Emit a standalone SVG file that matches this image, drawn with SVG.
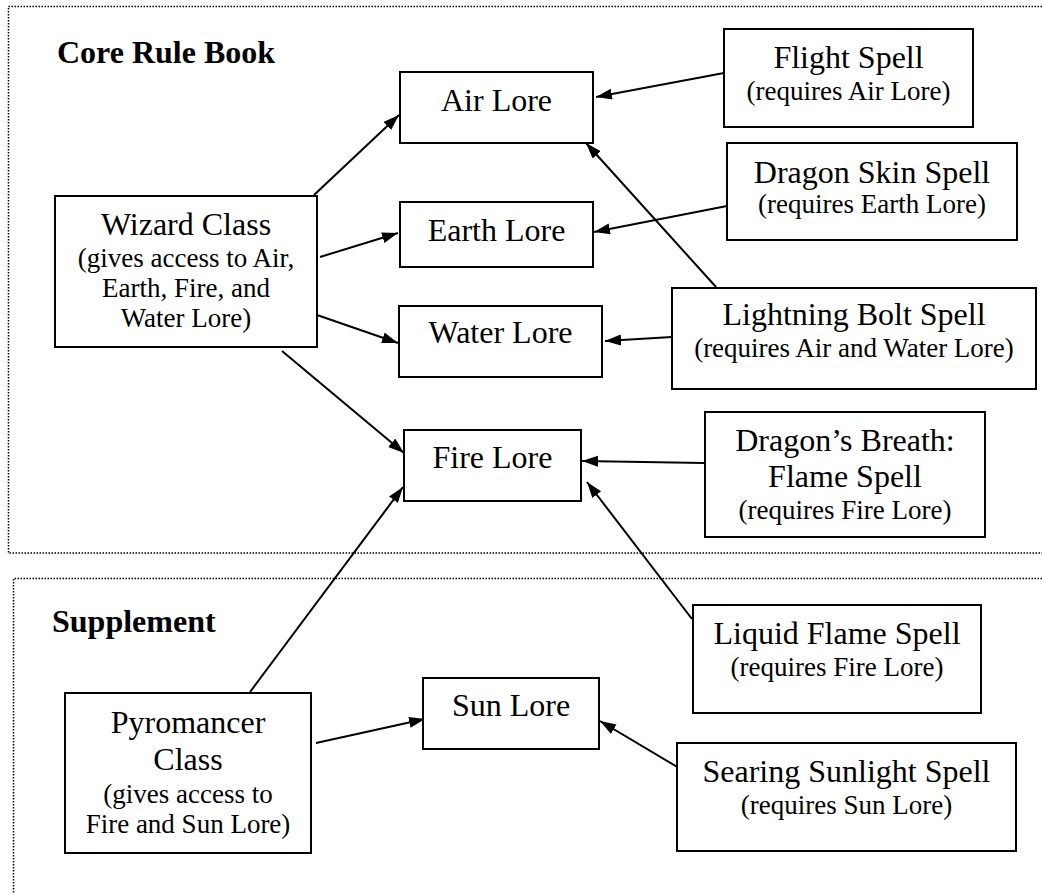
<svg xmlns="http://www.w3.org/2000/svg" width="1042" height="893" viewBox="0 0 1042 893">
<style>
text{font-family:'Liberation Serif','Times New Roman',Times,'DejaVu Serif',serif;fill:#000}
.box{fill:#fff;stroke:#000;stroke-width:2}
.t{font-size:32px;text-anchor:middle}
.s{font-size:27px;text-anchor:middle}
.h{font-size:32px;font-weight:bold}
.region{fill:none;stroke:#000;stroke-width:1.5;stroke-dasharray:1.5 1.5}
.edge{fill:none;stroke:#000;stroke-width:2;marker-end:url(#arr)}
</style>
<defs>
<marker id="arr" markerUnits="userSpaceOnUse" markerWidth="17" markerHeight="12" refX="16" refY="5.5" orient="auto">
<path d="M0,0 L16,5.5 L0,11 z" fill="#000"/>
</marker>
</defs>
<rect width="1042" height="893" fill="#fff"/>
<g id="regions">
<path class="region" d="M1042,6.5 H8.5 V553 H1042"/>
<path class="region" d="M1042,578.5 H13.5 V893"/>
<text class="h" x="57" y="63">Core Rule Book</text>
<text class="h" x="52" y="632">Supplement</text>
</g>
<g id="connectors">
<line class="edge" x1="314" y1="195" x2="399" y2="115"/>
<line class="edge" x1="320" y1="257" x2="398" y2="233"/>
<line class="edge" x1="317" y1="315" x2="398" y2="343"/>
<line class="edge" x1="282" y1="351" x2="404" y2="453"/>
<line class="edge" x1="250" y1="692" x2="403" y2="487"/>
<line class="edge" x1="316" y1="743" x2="425" y2="719"/>
<line class="edge" x1="724" y1="73" x2="596" y2="97"/>
<line class="edge" x1="727" y1="206" x2="594" y2="232"/>
<line class="edge" x1="716" y1="287" x2="586" y2="143"/>
<line class="edge" x1="672" y1="337" x2="605" y2="341"/>
<line class="edge" x1="704" y1="463" x2="582" y2="461"/>
<line class="edge" x1="692" y1="619" x2="587" y2="482"/>
<line class="edge" x1="679" y1="768" x2="600" y2="721"/>
</g>
<g id="wizard">
<rect class="box" x="55" y="196" width="262" height="151"/>
<text class="t" x="186" y="235">Wizard Class</text>
<text class="s" x="186" y="267">(gives access to Air,</text>
<text class="s" x="186" y="297">Earth, Fire, and</text>
<text class="s" x="186" y="327">Water Lore)</text>
</g>
<g id="airLore">
<rect class="box" x="400" y="72" width="193" height="71"/>
<text class="t" x="496.5" y="111">Air Lore</text>
</g>
<g id="earthLore">
<rect class="box" x="400" y="202" width="193" height="65"/>
<text class="t" x="496.5" y="241">Earth Lore</text>
</g>
<g id="waterLore">
<rect class="box" x="399" y="306" width="203" height="71"/>
<text class="t" x="500.5" y="343">Water Lore</text>
</g>
<g id="fireLore">
<rect class="box" x="404" y="430" width="177" height="71"/>
<text class="t" x="492.5" y="468">Fire Lore</text>
</g>
<g id="sunLore">
<rect class="box" x="423" y="678" width="176" height="71"/>
<text class="t" x="511" y="716">Sun Lore</text>
</g>
<g id="flightSpell">
<rect class="box" x="724" y="29" width="249" height="98"/>
<text class="t" x="848.5" y="68">Flight Spell</text>
<text class="s" x="848.5" y="100">(requires Air Lore)</text>
</g>
<g id="dragonSkinSpell">
<rect class="box" x="727" y="143" width="290" height="97"/>
<text class="t" x="872" y="183">Dragon Skin Spell</text>
<text class="s" x="872" y="213">(requires Earth Lore)</text>
</g>
<g id="lightningBoltSpell">
<rect class="box" x="672" y="288" width="364" height="101"/>
<text class="t" x="854" y="325">Lightning Bolt Spell</text>
<text class="s" x="854" y="357">(requires Air and Water Lore)</text>
</g>
<g id="dragonsBreathSpell">
<rect class="box" x="705" y="412" width="280" height="125"/>
<text class="t" x="845" y="451">Dragon’s Breath:</text>
<text class="t" x="845" y="487">Flame Spell</text>
<text class="s" x="845" y="519">(requires Fire Lore)</text>
</g>
<g id="liquidFlameSpell">
<rect class="box" x="693" y="605" width="288" height="108"/>
<text class="t" x="837" y="644">Liquid Flame Spell</text>
<text class="s" x="837" y="676">(requires Fire Lore)</text>
</g>
<g id="searingSunlightSpell">
<rect class="box" x="677" y="743" width="339" height="108"/>
<text class="t" x="846.5" y="782">Searing Sunlight Spell</text>
<text class="s" x="846.5" y="814">(requires Sun Lore)</text>
</g>
<g id="pyromancer">
<rect class="box" x="65" y="693" width="246" height="160"/>
<text class="t" x="188" y="733">Pyromancer</text>
<text class="t" x="188" y="770">Class</text>
<text class="s" x="188" y="803">(gives access to</text>
<text class="s" x="188" y="833">Fire and Sun Lore)</text>
</g>
</svg>
